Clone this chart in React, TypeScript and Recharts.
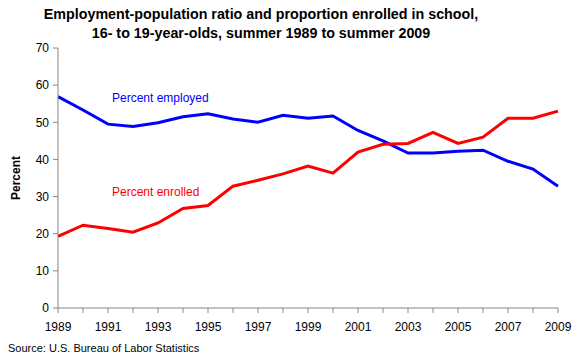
import { LineChart, Line, XAxis, YAxis, Label } from "recharts";

const years = [
  1989, 1990, 1991, 1992, 1993, 1994, 1995, 1996, 1997, 1998, 1999, 2000,
  2001, 2002, 2003, 2004, 2005, 2006, 2007, 2008, 2009,
];
const employed = [
  56.9, 53.3, 49.5, 48.9, 49.9, 51.5, 52.3, 50.9, 50.0, 51.9, 51.1, 51.7,
  47.8, 45.0, 41.7, 41.7, 42.2, 42.5, 39.5, 37.4, 32.8,
];
const enrolled = [
  19.3, 22.3, 21.4, 20.4, 22.9, 26.8, 27.6, 32.8, 34.4, 36.1, 38.2, 36.3,
  42.0, 44.1, 44.3, 47.3, 44.3, 46.0, 51.1, 51.1, 53.0,
];
const percentTicks = [0, 10, 20, 30, 40, 50, 60, 70];

const data = years.map((year, i) => ({
  year,
  employed: employed[i],
  enrolled: enrolled[i],
}));

const font = "'Liberation Sans', Arial, sans-serif";
const axisColor = "#868686";

export default function App() {
  return (
    <div
      style={{
        position: "absolute",
        left: 0,
        top: 0,
        width: 580,
        height: 360,
        background: "#fff",
        fontFamily: font,
      }}
    >
      <div
        style={{
          position: "absolute",
          left: 0,
          top: 5,
          width: 522,
          textAlign: "center",
          fontWeight: "bold",
          fontSize: 14.3,
          lineHeight: "19px",
          color: "#000",
        }}
      >
        Employment-population ratio and proportion enrolled in school,
        <br />
        16- to 19-year-olds, summer 1989 to summer 2009
      </div>
      <LineChart
        width={580}
        height={360}
        data={data}
        margin={{ top: 48, right: 22, bottom: 22, left: 0 }}
      >
        <XAxis
          dataKey="year"
          type="number"
          domain={[1989, 2009]}
          ticks={years}
          interval={0}
          height={30}
          tickFormatter={(v: number) => (v % 2 === 1 ? String(v) : "")}
          tick={{ fontSize: 12, fill: "#000", fontFamily: font }}
          stroke={axisColor}
          tickSize={5}
          tickMargin={9}
        />
        <YAxis
          width={58}
          domain={[0, 70]}
          ticks={percentTicks}
          interval={0}
          tick={{ fontSize: 12, fill: "#000", fontFamily: font }}
          stroke={axisColor}
          tickSize={5}
          tickMargin={4}
        >
          <Label
            value="Percent"
            angle={-90}
            position="insideLeft"
            offset={16}
            style={{
              fontSize: 12,
              fontWeight: "bold",
              fill: "#000",
              fontFamily: font,
              textAnchor: "middle",
            }}
          />
        </YAxis>
        <Line
          dataKey="employed"
          stroke="#0000ff"
          strokeWidth={3}
          dot={false}
          isAnimationActive={false}
        />
        <Line
          dataKey="enrolled"
          stroke="#ff0000"
          strokeWidth={3}
          dot={false}
          isAnimationActive={false}
        />
        <text x={112} y={102} fontSize={12} fill="#0000ff" fontFamily={font}>
          Percent employed
        </text>
        <text x={112} y={196} fontSize={12} fill="#ff0000" fontFamily={font}>
          Percent enrolled
        </text>
      </LineChart>
      <div
        style={{
          position: "absolute",
          left: 8,
          top: 342,
          fontSize: 11,
          color: "#000",
        }}
      >
        Source: U.S. Bureau of Labor Statistics
      </div>
    </div>
  );
}
